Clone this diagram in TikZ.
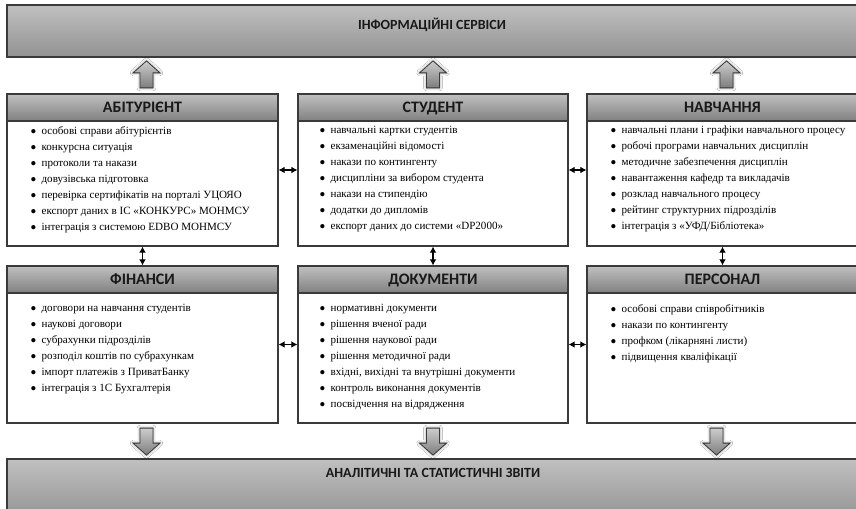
\documentclass[tikz,border=0pt]{standalone}
\usepackage{fontspec}
\setmainfont{Liberation Serif}
\newfontfamily\capsfont{Carlito}
\usetikzlibrary{fit,calc,arrows.meta,shadows.blur}

\definecolor{barTop}{RGB}{192,192,192}
\definecolor{barBot}{RGB}{146,146,146}
\definecolor{hdTop}{RGB}{192,192,192}
\definecolor{hdBot}{RGB}{128,128,128}
\definecolor{frameC}{RGB}{58,58,58}
\definecolor{arTop}{RGB}{205,205,205}
\definecolor{arBot}{RGB}{125,125,125}

\newcommand{\bl}[1]{\makebox[8.5pt][l]{\raisebox{-0.26em}{\scalebox{1.6}{\textbullet}}}#1}

\tikzset{
  bar/.style={draw=frameC, line width=1.1pt, top color=barTop, bottom color=barBot, inner sep=0pt},
  bartitle/.style={font=\capsfont\bfseries\fontsize{10.5}{12}\selectfont, text=black!90, inner sep=0pt},
  panel/.style={draw=frameC, line width=0.9pt, fill=white, inner sep=0pt},
  hdr/.style={draw=frameC, line width=0.9pt, top color=hdTop, bottom color=hdBot, inner sep=0pt},
  hdrtext/.style={font=\capsfont\bfseries\fontsize{12}{14}\selectfont, text=black!90,
                  inner sep=0pt, anchor=base},
  items/.style={anchor=north west, align=left, inner sep=0pt,
                font=\fontsize{8.3}{12}\selectfont},
  link/.style={line width=0.8pt, draw=black,
               {Latex[length=4.5pt,width=5pt]}-{Latex[length=4.5pt,width=5pt]}},
  blockarrow/.style={draw=frameC, line width=0.6pt, top color=arTop, bottom color=arBot,
                     line join=miter,
                     blur shadow={shadow xshift=0pt, shadow yshift=0pt,
                                  shadow blur radius=2.2pt, shadow opacity=45}},
}

% hollow block arrow pointing up, centred on a named coordinate
\newcommand{\uparrowat}[1]{%
  \path[blockarrow] ([shift={(0,-13.5)}]#1) -- ([shift={(13.5,-1.5)}]#1)
    -- ([shift={(6.5,-1.5)}]#1) -- ([shift={(6.5,13.5)}]#1)
    -- ([shift={(-6.5,13.5)}]#1) -- ([shift={(-6.5,-1.5)}]#1)
    -- ([shift={(-13.5,-1.5)}]#1) -- cycle;}
% hollow block arrow pointing down
\newcommand{\downarrowat}[1]{%
  \path[blockarrow] ([shift={(0,13.5)}]#1) -- ([shift={(13.5,1.5)}]#1)
    -- ([shift={(6.5,1.5)}]#1) -- ([shift={(6.5,-13.5)}]#1)
    -- ([shift={(-6.5,-13.5)}]#1) -- ([shift={(-6.5,1.5)}]#1)
    -- ([shift={(-13.5,1.5)}]#1) -- cycle;}

\begin{document}
\begin{tikzpicture}[x=0.75pt, y=-0.75pt]
\useasboundingbox (0,0) rectangle (856,509);
\fill[white] (0,0) rectangle (856,509);

% service bars
\node[bar, fit={(7,5)(872,57)}] (info) {};
\node[bartitle] (infot) at (432,25) {ІНФОРМАЦІЙНІ СЕРВІСИ};
\node[bar, fit={(7,459)(872,520)}] (rep) {};
\node[bartitle] (rept) at (433,473) {АНАЛІТИЧНІ ТА СТАТИСТИЧНІ ЗВІТИ};

% upper row of panels
\node[panel, fit={(7,94)(278,246)}] (abit) {};
\node[hdr, fit={(7,94)(278,121)}] (abith) {};
\node[hdrtext] (abitt) at ($(abith.center)+(0,5)$) {АБІТУРІЄНТ};
\node[items] (abitl) at (30,126) {%
\bl{особові справи абітурієнтів}\\
\bl{конкурсна ситуація}\\
\bl{протоколи та накази}\\
\bl{довузівська підготовка}\\
\bl{перевірка сертифікатів на порталі УЦОЯО}\\
\bl{експорт даних в ІС «КОНКУРС» МОНМСУ}\\
\bl{інтеграція з системою EDBO МОНМСУ}};

\node[panel, fit={(298,94)(568,246)}] (stud) {};
\node[hdr, fit={(298,94)(568,121)}] (studh) {};
\node[hdrtext] (studt) at ($(studh.center)+(0,5)$) {СТУДЕНТ};
\node[items] (studl) at (319,126) {%
\bl{навчальні картки студентів}\\
\bl{екзаменаційні відомості}\\
\bl{накази по контингенту}\\
\bl{дисципліни за вибором студента}\\
\bl{накази на стипендію}\\
\bl{додатки до дипломів}\\
\bl{експорт даних до системи «DP2000»}};

\node[panel, fit={(587,94)(858,246)}] (navch) {};
\node[hdr, fit={(587,94)(858,121)}] (navchh) {};
\node[hdrtext] (navcht) at ($(navchh.center)+(0,5)$) {НАВЧАННЯ};
\node[items] (navchl) at (610,126) {%
\bl{навчальні плани і графіки навчального процесу}\\
\bl{робочі програми навчальних дисциплін}\\
\bl{методичне забезпечення дисциплін}\\
\bl{навантаження кафедр та викладачів}\\
\bl{розклад навчального процесу}\\
\bl{рейтинг структурних підрозділів}\\
\bl{інтеграція з «УФД/Бібліотека»}};

% lower row of panels
\node[panel, fit={(7,266)(278,423)}] (fin) {};
\node[hdr, fit={(7,266)(278,293)}] (finh) {};
\node[hdrtext] (fint) at ($(finh.center)+(0,5)$) {ФІНАНСИ};
\node[items] (finl) at (30,304) {%
\bl{договори на навчання студентів}\\
\bl{наукові договори}\\
\bl{субрахунки підрозділів}\\
\bl{розподіл коштів по субрахункам}\\
\bl{імпорт платежів з ПриватБанку}\\
\bl{інтеграція з 1С Бухгалтерія}};

\node[panel, fit={(298,266)(568,423)}] (doc) {};
\node[hdr, fit={(298,266)(568,293)}] (doch) {};
\node[hdrtext] (doct) at ($(doch.center)+(0,5)$) {ДОКУМЕНТИ};
\node[items] (docl) at (319,304) {%
\bl{нормативні документи}\\
\bl{рішення вченої ради}\\
\bl{рішення наукової ради}\\
\bl{рішення методичної ради}\\
\bl{вхідні, вихідні та внутрішні документи}\\
\bl{контроль виконання документів}\\
\bl{посвідчення на відрядження}};

\node[panel, fit={(587,266)(858,423)}] (pers) {};
\node[hdr, fit={(587,266)(858,293)}] (persh) {};
\node[hdrtext] (perst) at ($(persh.center)+(0,5)$) {ПЕРСОНАЛ};
\node[items] (persl) at (610,304) {%
\bl{особові справи співробітників}\\
\bl{накази по контингенту}\\
\bl{профком (лікарняні листи)}\\
\bl{підвищення кваліфікації}};

% links between panels
\draw[link] (abit.east) -- (stud.west);
\draw[link] (stud.east) -- (navch.west);
\draw[link] (fin.east) -- (doc.west);
\draw[link] (doc.east) -- (pers.west);
\draw[link] (abit.south) -- (fin.north);
\draw[link] (stud.south) -- (doc.north);
\draw[link] (navch.south) -- (pers.north);

% block arrows to and from the service bars
\coordinate (up1) at ($(abit.north)+(4,-19)$);
\coordinate (up2) at ($(stud.north)+(0,-19)$);
\coordinate (up3) at ($(navch.north)+(4,-19)$);
\coordinate (dn1) at ($(fin.south)+(4,18)$);
\coordinate (dn2) at ($(doc.south)+(0,18)$);
\coordinate (dn3) at ($(pers.south)+(-6,18)$);
\uparrowat{up1}
\uparrowat{up2}
\uparrowat{up3}
\downarrowat{dn1}
\downarrowat{dn2}
\downarrowat{dn3}
\end{tikzpicture}
\end{document}
